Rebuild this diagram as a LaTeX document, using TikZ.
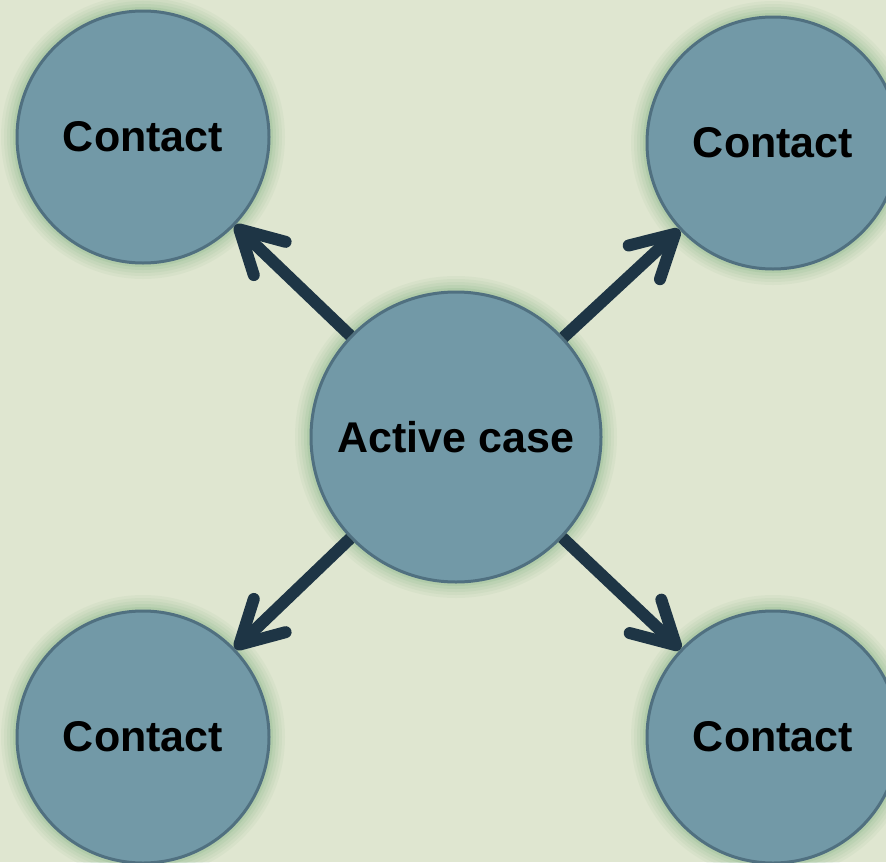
\documentclass[tikz,border=0pt]{standalone}
\usepackage{fontspec}
\setsansfont{Liberation Sans}
\usepackage{tikz}
\usetikzlibrary{arrows.meta,positioning}

\definecolor{bgc}{RGB}{223,230,208}
\definecolor{discfill}{RGB}{114,153,167}
\definecolor{discline}{RGB}{80,112,128}
\definecolor{glowc}{RGB}{150,190,148}
\definecolor{arrowc}{RGB}{30,53,69}

\begin{document}
\begin{tikzpicture}[
		x=1pt, y=-1pt,
		disc/.style={circle, draw=discline, line width=3pt, fill=discfill,
			inner sep=0pt, font=\sffamily\bfseries\fontsize{43}{50}\selectfont,
			preaction={draw=glowc, line width=32pt, opacity=.1},
			preaction={draw=glowc, line width=26pt, opacity=.12},
			preaction={draw=glowc, line width=20pt, opacity=.15},
			preaction={draw=glowc, line width=14pt, opacity=.2},
			preaction={draw=glowc, line width=8pt, opacity=.3}},
		contact/.style={disc, minimum size=252pt},
		case/.style={disc, minimum size=290pt},
		spread/.style={draw=arrowc, line width=12pt,
			-{Straight Barb[length=42pt, width=46pt, round]}}
		]

		% --- background ---
		\fill[bgc] (0,0) rectangle (886,862);
		\useasboundingbox (0,0) rectangle (886,862);

		% --- cercles ---
		\node[case] (A) at (456,437) {Active case};
		\node[contact] (C1) at (143,137) {Contact};
		\node[contact] (C2) at (773,143) {Contact};
		\node[contact] (C3) at (143,737) {Contact};
		\node[contact] (C4) at (773,737) {Contact};

		% --- fleches ---
		\draw[spread] (A) -- (C1);
		\draw[spread] (A) -- (C2);
		\draw[spread] (A) -- (C3);
		\draw[spread] (A) -- (C4);

	\end{tikzpicture}
\end{document}
